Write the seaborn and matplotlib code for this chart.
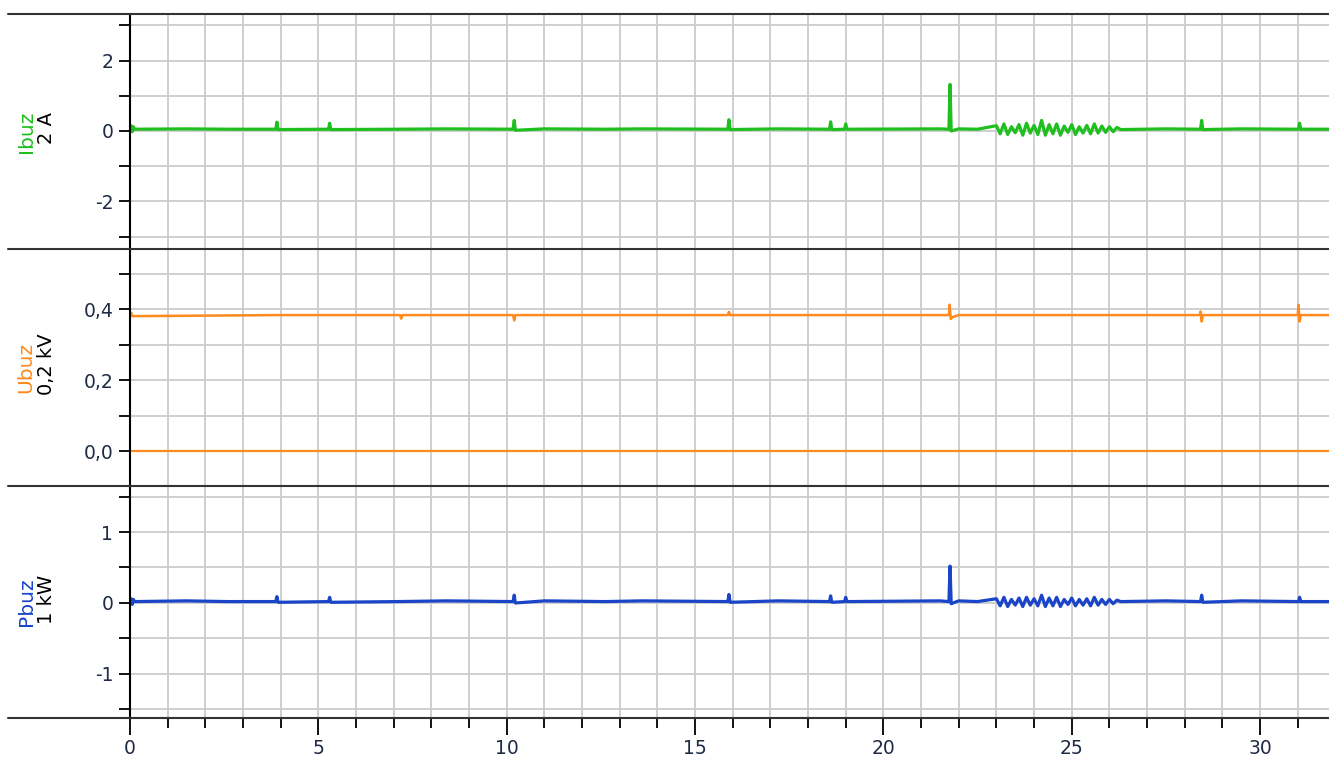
import numpy as np
import matplotlib
matplotlib.use('Agg')
import matplotlib.pyplot as plt
from matplotlib.lines import Line2D
from matplotlib.ticker import FuncFormatter
import seaborn as sns

# ---- data ----
# shared sample times for current and power events
t_ip = [0.00, 0.03, 0.06, 0.09, 0.12, 1.50, 2.60,
        3.87, 3.90, 3.93,
        5.27, 5.30, 5.33,
        7.10, 8.40,
        10.17, 10.20, 10.23,
        11.00, 12.60, 13.60,
        15.87, 15.90, 15.93,
        17.20,
        18.57, 18.60, 18.63,
        18.97, 19.00, 19.03,
        21.50, 21.74, 21.77, 21.80, 22.00, 22.50,
        23.00, 23.10, 23.20, 23.30, 23.40, 23.50, 23.60, 23.70, 23.80, 23.90, 24.00,
        24.10, 24.20, 24.30, 24.40, 24.50, 24.60, 24.70, 24.80, 24.90, 25.00, 25.10,
        25.20, 25.30, 25.40, 25.50, 25.60, 25.70, 25.80, 25.90, 26.00, 26.10, 26.20,
        26.30,
        27.50, 28.42, 28.45, 28.48, 29.50, 31.02, 31.05, 31.08, 31.83]

i_buz = [0.05, 0.15, -0.02, 0.12, 0.05, 0.06, 0.05,
         0.05, 0.25, 0.04,
         0.05, 0.22, 0.04,
         0.05, 0.06,
         0.05, 0.30, 0.02,
         0.06, 0.05, 0.06,
         0.05, 0.32, 0.04,
         0.06,
         0.05, 0.26, 0.04,
         0.05, 0.20, 0.05,
         0.06, 0.05, 1.32, 0.00, 0.06, 0.05,
         0.15, -0.08, 0.20, -0.10, 0.12, -0.05, 0.18, -0.12, 0.22, -0.06, 0.16,
         -0.10, 0.30, -0.12, 0.18, -0.08, 0.20, -0.12, 0.14, -0.04, 0.18, -0.10,
         0.12, -0.06, 0.16, -0.08, 0.20, -0.06, 0.14, -0.04, 0.12, -0.02, 0.10,
         0.04,
         0.06, 0.05, 0.30, 0.04, 0.06, 0.05, 0.22, 0.05, 0.05]

p_buz = [0.02, 0.06, -0.02, 0.05, 0.02, 0.03, 0.02,
         0.02, 0.09, 0.01,
         0.02, 0.08, 0.01,
         0.02, 0.03,
         0.02, 0.11, 0.00,
         0.03, 0.02, 0.03,
         0.02, 0.12, 0.01,
         0.03,
         0.02, 0.10, 0.01,
         0.02, 0.08, 0.02,
         0.03, 0.02, 0.52, -0.01, 0.03, 0.02,
         0.06, -0.04, 0.08, -0.05, 0.05, -0.03, 0.07, -0.05, 0.08, -0.03, 0.06,
         -0.04, 0.11, -0.05, 0.07, -0.04, 0.08, -0.05, 0.05, -0.02, 0.07, -0.04,
         0.05, -0.03, 0.06, -0.04, 0.08, -0.03, 0.05, -0.02, 0.05, -0.01, 0.04,
         0.02,
         0.03, 0.02, 0.11, 0.01, 0.03, 0.02, 0.08, 0.02, 0.02]

u_time = [0.00, 0.03, 0.06, 3.90, 7.17, 7.20, 7.23, 10.17, 10.20, 10.23, 15.87, 15.90,
          15.93, 18.60, 21.74, 21.76, 21.79, 21.85, 22.00, 24.00, 28.40, 28.42, 28.45,
          28.48, 31.00, 31.02, 31.05, 31.08, 31.83]
u_buz = [0.383, 0.390, 0.380, 0.383, 0.383, 0.373, 0.383, 0.383, 0.368, 0.383, 0.383,
         0.392, 0.383, 0.383, 0.383, 0.412, 0.372, 0.378, 0.383, 0.383, 0.383, 0.393,
         0.365, 0.383, 0.383, 0.412, 0.365, 0.383, 0.383]

u0_time = [0.0, 31.83]
u0_buz = [0.0, 0.0]

names = ['Ibuz', 'Ubuz', 'Pbuz']
units = ['2 A', '0,2 kV', '1 kW']
colors = ['#1fbf1f', '#ff8a1e', '#1a45c8']

# ---- figure ----
sns.set_style('white')
plt.rcParams['font.family'] = ['DejaVu Sans']
plt.rcParams['axes.unicode_minus'] = False

W, H = 1329, 758
fig = plt.figure(figsize=(W / 100, H / 100), dpi=100)

left = 130 / W
bounds = [(14, 249), (249, 486), (486, 718)]
axes = []
for top, bot in bounds:
    ax = fig.add_axes([left, 1 - bot / H, 1 - left, (bot - top) / H],
                      sharex=axes[0] if axes else None)
    axes.append(ax)

ax1, ax2, ax3 = axes

sns.lineplot(x=t_ip, y=i_buz, ax=ax1, color=colors[0], linewidth=2.3, estimator=None)
sns.lineplot(x=u_time, y=u_buz, ax=ax2, color=colors[1], linewidth=1.8, estimator=None)
sns.lineplot(x=u0_time, y=u0_buz, ax=ax2, color=colors[1], linewidth=1.6, estimator=None)
sns.lineplot(x=t_ip, y=p_buz, ax=ax3, color=colors[2], linewidth=2.3, estimator=None)

ax1.set_ylim(-3.35, 3.32)
ax1.set_yticks([-2, 0, 2])
ax1.set_yticks([-3, -1, 1, 3], minor=True)

ax2.set_ylim(-0.098, 0.569)
ax2.set_yticks([0.0, 0.2, 0.4])
ax2.set_yticks([0.1, 0.3, 0.5], minor=True)
ax2.yaxis.set_major_formatter(FuncFormatter(lambda v, p: f'{v:.1f}'.replace('.', ',')))

ax3.set_ylim(-1.62, 1.648)
ax3.set_yticks([-1, 0, 1])
ax3.set_yticks([-1.5, -0.5, 0.5, 1.5], minor=True)

ax3.set_xlim(0, 31.83)
ax3.set_xticks(range(0, 31, 5))
ax3.set_xticks(range(0, 32), minor=True)

label_col = '#1f2a44'
for ax in axes:
    for s in ['top', 'right', 'bottom']:
        ax.spines[s].set_visible(False)
    ax.spines['left'].set_color('black')
    ax.spines['left'].set_linewidth(1.5)
    ax.grid(which='both', color='#cccccc', linewidth=1.3)
    ax.set_axisbelow(True)
    ax.tick_params(axis='y', which='both', left=True, direction='out', length=8,
                   width=1.3, color='black', labelcolor=label_col, labelsize=13.5, pad=4)
    ax.set_xlabel('')
    ax.set_ylabel('')
    if ax is not ax3:
        ax.tick_params(axis='x', which='both', bottom=False, length=0, labelbottom=False)

ax3.tick_params(axis='x', which='major', bottom=True, direction='out', length=12,
                width=1.3, color='black', labelcolor=label_col, labelsize=13.5, pad=3)
ax3.tick_params(axis='x', which='minor', bottom=True, direction='out', length=7,
                width=1.3, color='black')

# panel separators across the whole width
for y in [14, 249, 486, 718]:
    fig.add_artist(Line2D([8 / W, 1], [1 - y / H, 1 - y / H], transform=fig.transFigure,
                          color='#333333', linewidth=1.5))

# channel labels on the left
for (top, bot), name, unit, col in zip(bounds, names, units, colors):
    yc = 1 - (top + bot) / 2 / H
    fig.text(26 / W, yc, name, rotation=90, color=col, fontsize=14.5,
             ha='center', va='center')
    fig.text(46 / W, yc + 3 / H, unit, rotation=90, color='black', fontsize=14,
             ha='center', va='center')

plt.savefig('out.png', dpi=100)
